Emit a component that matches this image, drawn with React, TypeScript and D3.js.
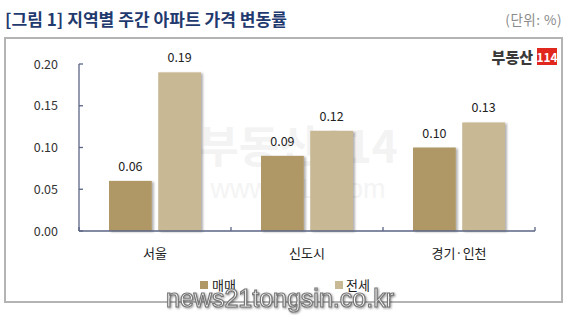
import React from "react";
import * as d3 from "d3";

const categories = ["서울", "신도시", "경기·인천"];
const seriesNames = ["매매", "전세"];
const saleValues = [0.06, 0.09, 0.10];
const jeonseValues = [0.19, 0.12, 0.13];
const yTicks = [0, 0.05, 0.1, 0.15, 0.2];
const colors = ["#AF9866", "#C9B894"];

export default function App() {
  const W = 567, H = 315;
  const x = d3.scaleBand().domain(categories).range([79, 535]).padding(0);
  const y = d3.scaleLinear().domain([0, 0.2]).range([231, 64]);
  const inner = d3.scaleBand().domain(seriesNames).range([-46, 46]).paddingInner(0.13);
  const series = [saleValues, jeonseValues];
  const font = "'Malgun Gothic', 'Noto Sans CJK KR', sans-serif";
  return (
    <svg width={W} height={H} style={{ position: "absolute", left: 0, top: 0, background: "#fff" }}>
      <defs>
        <filter id="sh" x="-20%" y="-20%" width="150%" height="150%">
          <feDropShadow dx="2" dy="1" stdDeviation="1" floodColor="#000" floodOpacity="0.3" />
        </filter>
      </defs>
      <text x={5} y={26} fontFamily={font} fontWeight="bold" fontSize={16.5} fill="#1F3A6E" textLength={282} lengthAdjust="spacingAndGlyphs">[그림 1] 지역별 주간 아파트 가격 변동률</text>
      <text x={562} y={25} textAnchor="end" fontFamily={font} fontSize={13.5} fill="#8a8a8a" letterSpacing={0.5}>(단위: %)</text>
      <rect x={5} y={38} width={557} height={264} fill="#fff" stroke="#B4B4B4" strokeWidth={2} />
      {/* faint watermark */}
      <text x={298} y={163} textAnchor="middle" fontFamily={font} fontWeight="bold" fontSize={44} fill="#F3F3F3">부동산114</text>
      <text x={298} y={198} textAnchor="middle" fontFamily="'Liberation Sans', Arial, sans-serif" fontSize={27} fill="#F4F4F4">www.r114.com</text>
      {/* logo */}
      <text x={533} y={63} textAnchor="end" fontFamily={font} fontWeight="900" fontSize={15} fill="#3a3a3a">부동산</text>
      <rect x={537} y={48} width={20} height={17} fill="#E0281E" />
      <text x={547} y={61.5} textAnchor="middle" fontFamily={font} fontWeight="bold" fontSize={12} fill="#fff">114</text>
      {/* y axis */}
      <line x1={79} x2={79} y1={y(0.2)} y2={y(0)} stroke="#5A6485" strokeWidth={1.3} />
      {yTicks.map((t) => (
        <g key={t}>
          <line x1={79} x2={83} y1={y(t)} y2={y(t)} stroke="#5A6485" strokeWidth={1.3} />
          <text x={58} y={y(t) + 4.5} textAnchor="end" fontFamily={font} fontSize={12.5} fill="#333">{t.toFixed(2)}</text>
        </g>
      ))}
      {/* bars */}
      {categories.map((c, i) => {
        const cx = (x(c) as number) + x.bandwidth() / 2;
        return (
          <g key={c}>
            {series.map((vals, s) => {
              const bx = cx + (inner(seriesNames[s]) as number);
              return (
                <g key={s}>
                  <rect x={bx} y={y(vals[i])} width={inner.bandwidth()} height={y(0) - y(vals[i])} fill={colors[s]} filter="url(#sh)" />
                  <text x={bx + inner.bandwidth() / 2} y={y(vals[i]) - 10} textAnchor="middle" fontFamily={font} fontSize={12.5} fill="#222">{vals[i].toFixed(2)}</text>
                </g>
              );
            })}
            <text x={cx} y={258} textAnchor="middle" fontFamily={font} fontSize={13} fill="#222">{c}</text>
          </g>
        );
      })}
      {/* x axis */}
      <line x1={79} x2={535} y1={y(0)} y2={y(0)} stroke="#5A6485" strokeWidth={1.3} />
      {[...categories.map((c) => x(c) as number), 535].map((t, i) => (
        <line key={i} x1={t} x2={t} y1={y(0)} y2={y(0) - 4} stroke="#5A6485" strokeWidth={1.3} />
      ))}
      {/* legend */}
      {seriesNames.map((n, s) => (
        <g key={n}>
          <rect x={200 + s * 135} y={281} width={8} height={8} fill={colors[s]} />
          <text x={212 + s * 134} y={290} fontFamily={font} fontSize={13} fill="#222">{n}</text>
        </g>
      ))}
      {/* overlay watermark */}
      <text x={280} y={307} textAnchor="middle" fontFamily="'Liberation Sans', Arial, sans-serif" fontSize={25} fill="#fff" stroke="#777" strokeWidth={1.2} style={{ filter: "drop-shadow(1px 1px 1px rgba(0,0,0,0.4))" }}>news21tongsin.co.kr</text>
    </svg>
  );
}
